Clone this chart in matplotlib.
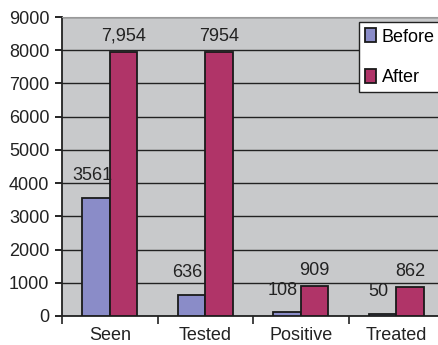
import numpy as np
import matplotlib.pyplot as plt

plt.rcParams['font.family'] = ['Liberation Sans', 'DejaVu Sans']

categories = ['Seen', 'Tested', 'Positive', 'Treated']
before = [3561, 636, 108, 50]
after = [7954, 7954, 909, 862]
before_labels = ['3561', '636', '108', '50']
after_labels = ['7,954', '7954', '909', '862']

fig = plt.figure(figsize=(4.39, 3.45), dpi=100)
ax = fig.add_axes([62 / 439, 29 / 345, 382 / 439, 299 / 345])
ax.set_facecolor('#c8c9cb')

x = np.arange(len(categories))
w = 0.29
b1 = ax.bar(x - w / 2, before, w, color='#8a8cc8', edgecolor='#1a1a1a', linewidth=1.3, label='Before', zorder=3)
b2 = ax.bar(x + w / 2, after, w, color='#b03468', edgecolor='#1a1a1a', linewidth=1.3, label='After', zorder=3)

for rect, lab in zip(b1, before_labels):
    ax.annotate(lab, (rect.get_x() + rect.get_width() / 2 - 0.04, rect.get_height()),
                xytext=(0, 10), textcoords='offset points', ha='center', va='bottom',
                fontsize=13, color='#222222')
for rect, lab in zip(b2, after_labels):
    ax.annotate(lab, (rect.get_x() + rect.get_width() / 2, rect.get_height()),
                xytext=(0, 5), textcoords='offset points', ha='center', va='bottom',
                fontsize=13, color='#222222')

ax.set_xlim(-0.5, 3.5)
ax.set_ylim(0, 9000)
ax.set_yticks(np.arange(0, 9001, 1000))
ax.yaxis.grid(True, color='#222222', linewidth=1.0, zorder=1)
ax.set_axisbelow(True)

ax.set_xticks(x)
ax.set_xticklabels(categories, fontsize=13, color='#222222')
ax.set_xticks(np.arange(-0.5, 4, 1), minor=True)
ax.tick_params(axis='x', which='major', length=0, pad=8)
ax.tick_params(axis='x', which='minor', length=6, width=1.2, color='#222222')
ax.tick_params(axis='y', length=5, width=1.2, labelsize=13, labelcolor='#222222', pad=4)

for s in ['left', 'bottom']:
    ax.spines[s].set_color('#222222')
    ax.spines[s].set_linewidth(1.3)
ax.spines['top'].set_color('#999999')
ax.spines['right'].set_visible(False)

leg = ax.legend(loc='upper left', fontsize=13, frameon=True, fancybox=False, edgecolor='#222222',
                handlelength=0.6, handleheight=0.8, handletextpad=0.3,
                labelspacing=1.3, borderpad=0.35, borderaxespad=0)
leg.get_frame().set_linewidth(1.0)
leg.get_frame().set_alpha(1.0)
leg.set_bbox_to_anchor((359 / 439, (345 - 22) / 345), transform=fig.transFigure)

fig.savefig('out.png', dpi=100)
